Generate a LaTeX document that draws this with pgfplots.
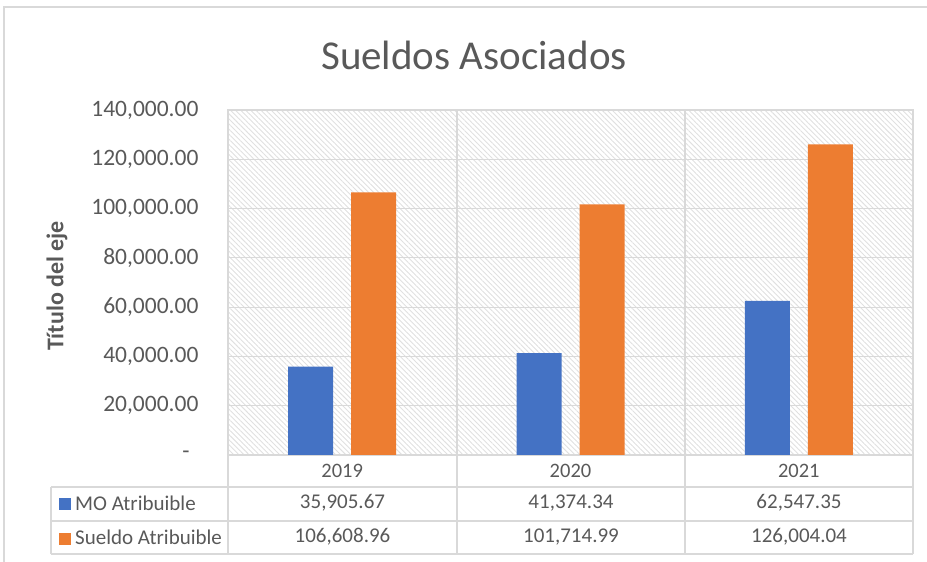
\documentclass[border=0pt]{standalone}
\usepackage{fontspec}
\setmainfont{Carlito}
\usepackage{pgfplots}
\pgfplotsset{compat=1.18}
\usetikzlibrary{patterns.meta}
\definecolor{mblue}{HTML}{4472C4}
\definecolor{morange}{HTML}{ED7D31}
\definecolor{tgray}{HTML}{595959}
\definecolor{lgray}{HTML}{D9D9D9}
\definecolor{hgray}{HTML}{E0E0E0}
\begin{document}
\begin{tikzpicture}[x=1pt,y=1pt]
\useasboundingbox (0,0) rectangle (927,562);
\draw[lgray, line width=1.2pt] (4,0) -- (4,555) -- (927,555);
\begin{axis}[
  at={(228pt,107pt)}, anchor=south west,
  scale only axis, width=685pt, height=345pt,
  xmin=-0.5, xmax=2.5, ymin=0, ymax=140000,
  scaled y ticks=false,
  xtick={0,1,2}, xticklabels={2019,2020,2021},
  ytick={0,20000,40000,60000,80000,100000,120000,140000},
  yticklabels={{\makebox[16pt][l]{-}},{20,000.00},{40,000.00},{60,000.00},{80,000.00},{100,000.00},{120,000.00},{140,000.00}},
  major tick length=0pt,
  ymajorgrids, grid style={lgray, line width=1.2pt},
  axis line style={lgray, line width=1.2pt},
  axis background/.style={pattern={Lines[angle=-45,distance=3.6pt,line width=0.9pt]}, pattern color=hgray},
  tick label style={font=\fontsize{23.5}{28}\selectfont, text=tgray},
  xticklabel style={font=\fontsize{20.5}{24}\selectfont, yshift=-6pt},
  yticklabel style={xshift=-26pt},
  ybar, bar width=45pt,
  clip=false,
]
\addplot[fill=mblue, draw=none, bar shift=-31.5pt] coordinates {(0,35905.67) (1,41374.34) (2,62547.35)};
\addplot[fill=morange, draw=none, bar shift=31.5pt] coordinates {(0,106608.96) (1,101714.99) (2,126004.04)};
\end{axis}
% data table lines
\begin{scope}[lgray, line width=1.2pt]
\foreach \xx in {228,457,685,913} {\draw (\xx,452) -- (\xx,8);}
\draw (51,75) -- (51,8);
\foreach \yy in {75,41,8} {\draw (51,\yy) -- (913,\yy);}
\end{scope}
% data table text
\begin{scope}[font=\fontsize{21}{25}\selectfont, text=tgray]
\fill[mblue] (59,52) rectangle (71,64);
\fill[morange] (59,17) rectangle (71,29);
\node[anchor=west, inner sep=0pt] at (75,59) {MO Atribuible};
\node[anchor=west, inner sep=0pt] at (75,25) {Sueldo Atribuible};
\node at (342.5,59) {35,905.67};
\node at (571,59) {41,374.34};
\node at (799,59) {62,547.35};
\node at (342.5,25) {106,608.96};
\node at (571,25) {101,714.99};
\node at (799,25) {126,004.04};
\end{scope}
\node[rotate=90, text=tgray, font=\fontsize{24}{28}\selectfont\bfseries] at (57,276) {Título del eje};
\node[text=tgray, font=\fontsize{41}{46}\selectfont] at (474,507) {Sueldos Asociados};
\end{tikzpicture}
\end{document}
